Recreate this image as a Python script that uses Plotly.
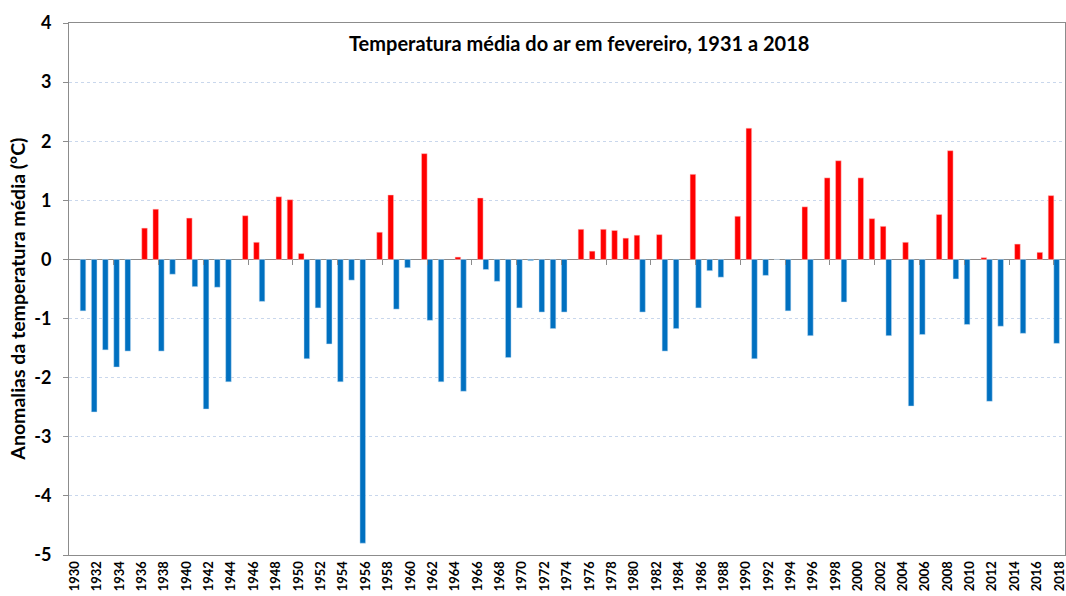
import plotly.graph_objects as go

years = list(range(1931, 2019))
anomalies = [
    -0.87, -2.58, -1.53, -1.82, -1.55, 0.53, 0.85, -1.55, -0.25, 0.70,   # 1931-1940
    -0.46, -2.53, -0.47, -2.07, 0.74, 0.29, -0.71, 1.06, 1.01, 0.10,     # 1941-1950
    -1.68, -0.82, -1.43, -2.07, -0.35, -4.80, 0.46, 1.09, -0.84, -0.14,  # 1951-1960
    1.79, -1.03, -2.07, 0.04, -2.23, 1.04, -0.17, -0.37, -1.66, -0.82,   # 1961-1970
    -0.02, -0.89, -1.17, -0.89, 0.51, 0.14, 0.51, 0.49, 0.36, 0.41,      # 1971-1980
    -0.89, 0.42, -1.55, -1.17, 1.44, -0.82, -0.19, -0.30, 0.73, 2.22,    # 1981-1990
    -1.68, -0.27, 0.00, -0.87, 0.89, -1.29, 1.38, 1.67, -0.72, 1.38,     # 1991-2000
    0.69, 0.56, -1.29, 0.29, -2.48, -1.27, 0.76, 1.84, -0.33, -1.10,     # 2001-2010
    0.03, -2.40, -1.13, 0.26, -1.25, 0.12, 1.08, -1.42,                  # 2011-2018
]
tick_years = list(range(1930, 2019, 2))
y_ticks = list(range(-5, 5))
y_tick_labels = [str(v) for v in y_ticks]

title_text = "Temperatura média do ar em fevereiro, 1931 a 2018"
y_title = "Anomalias da temperatura média (°C)"

pos_x = [y for y, v in zip(years, anomalies) if v > 0]
pos_v = [v for v in anomalies if v > 0]
neg_x = [y for y, v in zip(years, anomalies) if v <= 0]
neg_v = [v for v in anomalies if v <= 0]

FONT = "Lato"

fig = go.Figure()
fig.add_trace(go.Bar(
    x=neg_x, y=neg_v, width=0.5, offset=-0.5,
    marker=dict(color="#0070C0", line=dict(color="rgba(200,225,245,0.8)", width=0.6)),
    showlegend=False,
))
fig.add_trace(go.Bar(
    x=pos_x, y=pos_v, width=0.5, offset=0.0,
    marker=dict(color="#FF0000", line=dict(color="rgba(255,200,200,0.8)", width=0.6)),
    showlegend=False,
))
# empty trace so the zero-line tick axis is rendered
fig.add_trace(go.Scatter(x=[None], y=[None], xaxis="x2", yaxis="y",
                         showlegend=False, hoverinfo="skip"))

fig.update_layout(
    width=1066, height=596,
    margin=dict(l=69, r=1, t=23, b=41, autoexpand=False),
    paper_bgcolor="white", plot_bgcolor="white",
    barmode="overlay",
    font=dict(family=FONT, color="black"),
    xaxis=dict(
        range=[1929.5, 2018.5],
        tickmode="array", tickvals=tick_years, ticktext=[str(t) for t in tick_years],
        tickangle=-90, tickfont=dict(size=13, family=FONT, weight="bold"),
        ticklabeloverflow="allow",
        ticks="", showgrid=False, zeroline=False, automargin=False,
        showline=True, linecolor="#8C8C8C", linewidth=1, mirror=True,
    ),
    xaxis2=dict(
        overlaying="x", anchor="free", position=5/9,
        range=[1929.5, 2018.5],
        tickmode="array", tickvals=[t + 0.5 for t in range(1933, 2018, 4)],
        ticks="outside", ticklen=5, tickcolor="#8C8C8C", tickwidth=1,
        showticklabels=False, showgrid=False, zeroline=False, showline=False,
    ),
    yaxis=dict(
        range=[-5, 4], tickmode="array", tickvals=y_ticks, ticktext=y_tick_labels,
        tickfont=dict(size=18, family=FONT, weight="bold"),
        ticks="outside", ticklen=5, tickcolor="#8C8C8C",
        ticklabelstandoff=8, automargin=False,
        showgrid=True, gridcolor="#C9D7EC", griddash="dot", gridwidth=1,
        zeroline=True, zerolinecolor="#8C8C8C", zerolinewidth=1,
        showline=True, linecolor="#8C8C8C", linewidth=1, mirror=True,
    ),
    annotations=[
        dict(text=title_text, xref="paper", yref="paper", x=0.512, y=1, yshift=-20,
             xanchor="center", yanchor="middle", showarrow=False,
             font=dict(size=20, family=FONT, weight="bold")),
        dict(text=y_title, xref="paper", yref="paper", x=0, xshift=-51, y=0.48,
             xanchor="center", yanchor="middle", textangle=-90, showarrow=False,
             font=dict(size=19.5, family=FONT, weight="bold")),
    ],
)

fig.write_html(
    "out.html",
    config={"displayModeBar": False},
    post_script="document.body.style.margin='0';document.body.style.overflow='hidden';",
)
